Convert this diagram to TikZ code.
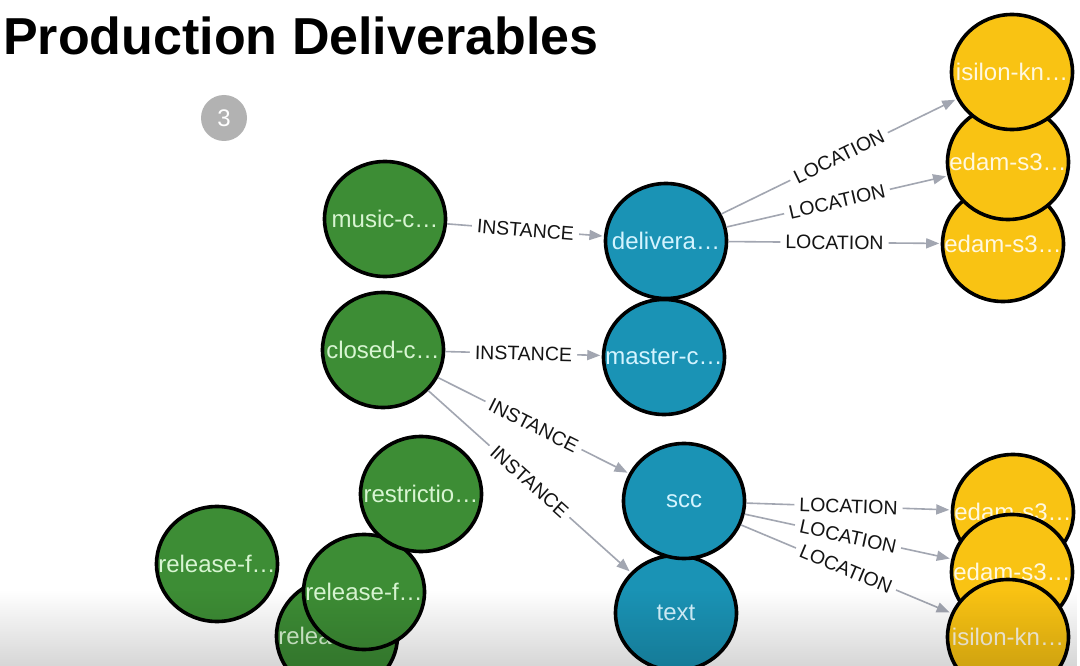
\documentclass[tikz,border=0pt]{standalone}
\usepackage{fontspec}
\setmainfont{Liberation Sans}
\usetikzlibrary{arrows.meta,shapes.geometric,fadings}
\definecolor{ngreen}{HTML}{3D8D35}
\definecolor{nblue}{HTML}{1A93B5}
\definecolor{nyellow}{HTML}{F9C313}
\definecolor{edgegray}{HTML}{A2A6B1}
\definecolor{gtext}{HTML}{D8F5D2}
\definecolor{btext}{HTML}{D4F4FF}
\definecolor{ytext}{HTML}{FFF8E0}
\tikzfading[name=fadeup, top color=transparent!100, bottom color=transparent!84]
\tikzset{
  gnode/.style={ellipse, draw=black, line width=3.6pt, fill=ngreen, minimum width=121pt, minimum height=115pt, inner sep=0pt, text=gtext, font=\fontsize{24}{24}\selectfont},
  bnode/.style={gnode, fill=nblue, text=btext},
  ynode/.style={gnode, fill=nyellow, text=ytext},
  rel/.style={draw=edgegray, line width=1.6pt, shorten >=1.5pt, -{Triangle[length=13pt,width=10pt,fill=edgegray]}},
  rlab/.style={fill=white, sloped, midway, inner xsep=5pt, inner ysep=1pt, text=black!92, font=\fontsize{19.5}{19.5}\selectfont}
}
\newcommand{\nt}[1]{\makebox[0pt]{#1}}
\begin{document}
\begin{tikzpicture}[x=1pt,y=-1pt]
\useasboundingbox (0,0) rectangle (1080,666);
\fill[white] (0,0) rectangle (1080,666);
% title and badge
\node[anchor=base west, inner sep=0pt, font=\fontsize{52}{52}\selectfont\bfseries] (title) at (3,55) {Production Deliverables};
\node[circle, fill=black!30, minimum size=46pt, inner sep=0pt, text=white, font=\fontsize{24}{24}\selectfont] (badge) at (224,118) {3};
% green nodes
\node[gnode] (music) at (385,219) {\nt{music-c…}};
\node[gnode] (closed) at (383,350) {\nt{closed-c…}};
\node[gnode] (relleft) at (217,564) {\nt{release-f…}};
\node[gnode] (relhid) at (337,636) {\nt{release-f…}};
\node[gnode] (relmid) at (364,592) {\nt{release-f…}};
\node[gnode] (restr) at (421,494) {\nt{restrictio…}};
% blue nodes
\node[bnode] (deliv) at (666,241) {\nt{delivera…}};
\node[bnode] (master) at (664,357) {\nt{master-c…}};
\node[bnode] (text) at (676,613) {\nt{text}};
\node[bnode] (scc) at (684,501) {\nt{scc}};
% yellow nodes, top group
\node[ynode] (edamB) at (1003,244) {\nt{edam-s3…}};
\node[ynode] (edamA) at (1008,162) {\nt{edam-s3…}};
\node[ynode] (isiA) at (1012,72) {\nt{isilon-kn…}};
% yellow nodes, bottom group
\node[ynode] (edamC) at (1013,512) {\nt{edam-s3…}};
\node[ynode] (edamD) at (1012,572) {\nt{edam-s3…}};
\node[ynode] (isiB) at (1008,637) {\nt{isilon-kn…}};
% relationships
\draw[rel] (music) -- node[rlab] {INSTANCE} (deliv);
\draw[rel] (closed) -- node[rlab] {INSTANCE} (master);
\draw[rel] (closed) -- node[rlab] {INSTANCE} (scc);
\draw[rel] (closed) -- node[rlab] {INSTANCE} (text);
\draw[rel] (deliv) -- node[rlab] {LOCATION} (isiA);
\draw[rel] (deliv) -- node[rlab] {LOCATION} (edamA);
\draw[rel] (deliv) -- node[rlab] {LOCATION} (edamB);
\draw[rel] (scc) -- node[rlab] {LOCATION} (edamC);
\draw[rel] (scc) -- node[rlab] {LOCATION} (edamD);
\draw[rel] (scc) -- node[rlab] {LOCATION} (isiB);
% bottom fade
\fill[black, path fading=fadeup] (0,590) rectangle (1080,666);
\end{tikzpicture}
\end{document}
